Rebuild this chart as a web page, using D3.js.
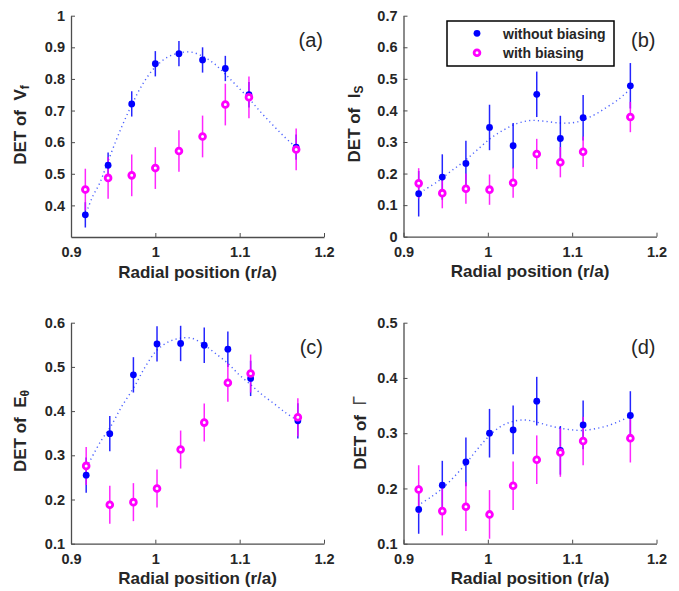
<!DOCTYPE html>
<html><head><meta charset="utf-8">
<script src="https://cdn.jsdelivr.net/npm/d3@7"></script>
<style>
body{margin:0;background:#fff}
svg{display:block}
text{font-family:"Liberation Sans",Arial,Helvetica,sans-serif}
</style>
</head><body>
<svg id="chart" width="679" height="591"></svg>
<script>
// ---------------- data ----------------
const radialA = [0.917, 0.944, 0.972, 1.000, 1.028, 1.056, 1.083, 1.111, 1.167];
const radialB = [0.918, 0.946, 0.974, 1.002, 1.030, 1.058, 1.086, 1.113, 1.169];

const noBiasVf  = [0.370, 0.527, 0.721, 0.848, 0.880, 0.860, 0.833, 0.750, 0.584];
const biasVf    = [0.450, 0.487, 0.495, 0.518, 0.572, 0.618, 0.719, 0.742, 0.577];
const noBiasVfErr = [0.040, 0.040, 0.040, 0.040, 0.040, 0.040, 0.040, 0.040, 0.040];
const biasVfErr   = [0.066, 0.066, 0.066, 0.066, 0.066, 0.066, 0.066, 0.066, 0.066];
const fitVfX = [0.920, 0.926, 0.934, 0.944, 0.958, 0.972, 0.986, 1.000, 1.014, 1.028, 1.042, 1.056, 1.070, 1.083, 1.097, 1.111, 1.125, 1.139, 1.153, 1.167];
const fitVfY = [0.390, 0.430, 0.470, 0.540, 0.635, 0.718, 0.788, 0.838, 0.868, 0.882, 0.885, 0.872, 0.848, 0.815, 0.777, 0.738, 0.695, 0.655, 0.617, 0.583];

const noBiasIs  = [0.136, 0.189, 0.232, 0.346, 0.288, 0.451, 0.311, 0.377, 0.478];
const biasIs    = [0.169, 0.138, 0.152, 0.149, 0.171, 0.262, 0.236, 0.269, 0.379];
const noBiasIsErr = [0.072, 0.072, 0.072, 0.072, 0.072, 0.072, 0.072, 0.072, 0.072];
const biasIsErr   = [0.048, 0.048, 0.048, 0.048, 0.048, 0.048, 0.048, 0.048, 0.048];
const fitIsX = [0.924, 0.940, 0.955, 0.971, 0.987, 1.003, 1.018, 1.034, 1.050, 1.066, 1.086, 1.105, 1.125, 1.141, 1.155, 1.165];
const fitIsY = [0.147, 0.174, 0.205, 0.237, 0.274, 0.311, 0.337, 0.358, 0.368, 0.366, 0.360, 0.363, 0.384, 0.410, 0.435, 0.458];

const noBiasEt  = [0.255, 0.349, 0.482, 0.552, 0.553, 0.549, 0.540, 0.474, 0.378];
const biasEt    = [0.276, 0.188, 0.194, 0.225, 0.313, 0.374, 0.464, 0.485, 0.386];
const noBiasEtErr = [0.040, 0.040, 0.040, 0.040, 0.040, 0.040, 0.040, 0.040, 0.040];
const biasEtErr   = [0.043, 0.043, 0.043, 0.043, 0.043, 0.043, 0.043, 0.043, 0.043];
const fitEtX = [0.921, 0.935, 0.947, 0.960, 0.975, 0.988, 1.002, 1.016, 1.030, 1.043, 1.057, 1.071, 1.086, 1.099, 1.113, 1.126, 1.140, 1.154, 1.166];
const fitEtY = [0.282, 0.331, 0.365, 0.410, 0.455, 0.500, 0.538, 0.557, 0.565, 0.565, 0.551, 0.531, 0.508, 0.483, 0.460, 0.438, 0.418, 0.397, 0.382];

const noBiasG   = [0.162, 0.206, 0.248, 0.300, 0.306, 0.358, 0.269, 0.315, 0.332];
const biasG     = [0.198, 0.159, 0.167, 0.153, 0.205, 0.252, 0.265, 0.286, 0.291];
const noBiasGErr = [0.044, 0.044, 0.044, 0.044, 0.044, 0.044, 0.044, 0.044, 0.044];
const biasGErr   = [0.044, 0.044, 0.044, 0.044, 0.044, 0.044, 0.044, 0.044, 0.044];
const fitGX = [0.921, 0.933, 0.946, 0.960, 0.974, 0.987, 1.001, 1.015, 1.029, 1.044, 1.058, 1.072, 1.086, 1.100, 1.113, 1.127, 1.141, 1.155, 1.167];
const fitGY = [0.173, 0.185, 0.200, 0.221, 0.245, 0.270, 0.294, 0.312, 0.321, 0.324, 0.320, 0.314, 0.309, 0.306, 0.305, 0.308, 0.313, 0.321, 0.329];

const xTickValues = [0.9, 1.0, 1.1, 1.2];
const xTickLabels = ["0.9", "1", "1.1", "1.2"];
const yTicksVf = [0.4, 0.5, 0.6, 0.7, 0.8, 0.9, 1.0];
const yTicksIs = [0, 0.1, 0.2, 0.3, 0.4, 0.5, 0.6, 0.7];
const yTicksEt = [0.1, 0.2, 0.3, 0.4, 0.5, 0.6];
const yTicksG  = [0.1, 0.2, 0.3, 0.4, 0.5];
const panelTags = ["(a)", "(b)", "(c)", "(d)"];
const legendLabels = ["without biasing", "with biasing"];
const xTitle = "Radial position (r/a)";

// ---------------- drawing ----------------
const BLUE = "#0000ff", PINK = "#ff00ff", TEXT = "#262626", AXIS = "#4d4d4d";
const svg = d3.select("#chart");

const panels = [
  {tag: panelTags[0], x: radialA, blue: noBiasVf, pink: biasVf, be: noBiasVfErr, pe: biasVfErr, fx: fitVfX, fy: fitVfY,
   yd: [0.3, 1.0], yt: yTicksVf, box: [71, 324, 15.7, 237], lab: ["DET of  V", "f", true], labPos: [26, 125]},
  {tag: panelTags[1], x: radialB, blue: noBiasIs, pink: biasIs, be: noBiasIsErr, pe: biasIsErr, fx: fitIsX, fy: fitIsY,
   yd: [0, 0.7], yt: yTicksIs, box: [403.5, 656.5, 15.7, 236.7], lab: ["DET of  I", "S", true], labPos: [360, 124]},
  {tag: panelTags[2], x: radialB, blue: noBiasEt, pink: biasEt, be: noBiasEtErr, pe: biasEtErr, fx: fitEtX, fy: fitEtY,
   yd: [0.1, 0.6], yt: yTicksEt, box: [71, 324, 322.7, 543.7], lab: ["DET of  E", "θ", true], labPos: [26, 431]},
  {tag: panelTags[3], x: radialB, blue: noBiasG, pink: biasG, be: noBiasGErr, pe: biasGErr, fx: fitGX, fy: fitGY,
   yd: [0.1, 0.5], yt: yTicksG, box: [403.5, 656.5, 322.7, 543.7], lab: ["DET of  ", "Γ", false], labPos: [366, 433]}
];

const fmtY = d => (d === 1 ? "1" : (d === 0 ? "0" : d.toFixed(1)));

panels.forEach(p => {
  const [x0, x1, yT, yB] = p.box;
  const xs = d3.scaleLinear().domain([0.9, 1.2]).range([x0, x1]);
  const ys = d3.scaleLinear().domain(p.yd).range([yB, yT]);
  const g = svg.append("g");

  // axes
  const xAxis = d3.axisBottom(xs).tickValues(xTickValues).tickFormat((d, i) => xTickLabels[i])
    .tickSizeInner(-4).tickSizeOuter(0).tickPadding(10);
  const yAxis = d3.axisLeft(ys).tickValues(p.yt).tickFormat(fmtY)
    .tickSizeInner(-4).tickSizeOuter(0).tickPadding(6);
  const gx = g.append("g").attr("transform", `translate(0,${yB})`).call(xAxis);
  const gy = g.append("g").attr("transform", `translate(${x0},0)`).call(yAxis);
  [gx, gy].forEach(a => {
    a.select(".domain").attr("stroke", AXIS).attr("stroke-width", 1.3);
    a.selectAll(".tick line").attr("stroke", AXIS).attr("stroke-width", 1);
    a.selectAll(".tick text").attr("fill", TEXT).style("font-size", "14.5px").style("font-weight", "bold")
      .style("font-family", '"Liberation Sans",Arial,sans-serif');
  });

  // fit curve (dotted)
  const line = d3.line().x((d, i) => xs(p.fx[i])).y((d, i) => ys(p.fy[i])).curve(d3.curveCatmullRom);
  g.append("path").datum(p.fx).attr("d", line).attr("fill", "none")
    .attr("stroke", "#2b45ff").attr("stroke-width", 1.4).attr("stroke-dasharray", "1.2 3.2").attr("opacity", 0.85);

  // error bars
  const drawErr = (vals, errs, col) => {
    g.append("g").selectAll("line").data(vals).join("line")
      .attr("x1", (d, i) => xs(p.x[i])).attr("x2", (d, i) => xs(p.x[i]))
      .attr("y1", (d, i) => ys(d - errs[i])).attr("y2", (d, i) => ys(d + errs[i]))
      .attr("stroke", col).attr("stroke-width", 1.5).attr("opacity", 0.85);
  };
  drawErr(p.blue, p.be, BLUE);
  drawErr(p.pink, p.pe, PINK);

  // markers
  g.append("g").selectAll("circle").data(p.blue).join("circle")
    .attr("cx", (d, i) => xs(p.x[i])).attr("cy", d => ys(d)).attr("r", 3.4).attr("fill", BLUE);
  g.append("g").selectAll("circle").data(p.pink).join("circle")
    .attr("cx", (d, i) => xs(p.x[i])).attr("cy", d => ys(d)).attr("r", 2.9)
    .attr("fill", "#fff").attr("stroke", PINK).attr("stroke-width", 2.8);

  // x title
  g.append("text").attr("x", (x0 + x1) / 2).attr("y", yB + 40.7).attr("text-anchor", "middle")
    .attr("fill", TEXT).style("font-size", "17px").style("font-weight", "bold").text(xTitle);

  // y label
  const [lx, ly] = p.labPos;
  const yl = g.append("text").attr("transform", `translate(${lx},${ly}) rotate(-90)`)
    .attr("text-anchor", "middle").attr("fill", TEXT).style("font-size", "17px").style("font-weight", "bold")
    .style("white-space", "pre");
  yl.append("tspan").text(p.lab[0]);
  if (p.lab[2]) {
    yl.append("tspan").attr("dy", 2.5).style("font-size", "12px").text(p.lab[1]);
  } else {
    yl.append("tspan").style("font-weight", "normal").attr("fill", "#4a4a4a")
      .style("font-family", '"DejaVu Sans",sans-serif').style("font-size", "17px").text(p.lab[1]);
  }

  // panel tag
  g.append("text").attr("x", x1 - 1).attr("y", yT + 31).attr("text-anchor", "end")
    .attr("fill", TEXT).style("font-size", "20px").text(p.tag);
});

// legend
const lg = svg.append("g");
lg.append("rect").attr("x", 447).attr("y", 21).attr("width", 167).attr("height", 45)
  .attr("fill", "#fff").attr("stroke", "#000").attr("stroke-width", 1.5);
lg.append("circle").attr("cx", 477).attr("cy", 33.3).attr("r", 3.4).attr("fill", BLUE);
lg.append("circle").attr("cx", 477).attr("cy", 52.7).attr("r", 2.9).attr("fill", "#fff")
  .attr("stroke", PINK).attr("stroke-width", 2.8);
legendLabels.forEach((t, i) => {
  lg.append("text").attr("x", 503).attr("y", 38.6 + i * 19.5).attr("fill", TEXT)
    .style("font-size", "14px").style("font-weight", "bold").text(t);
});
</script>
</body></html>
